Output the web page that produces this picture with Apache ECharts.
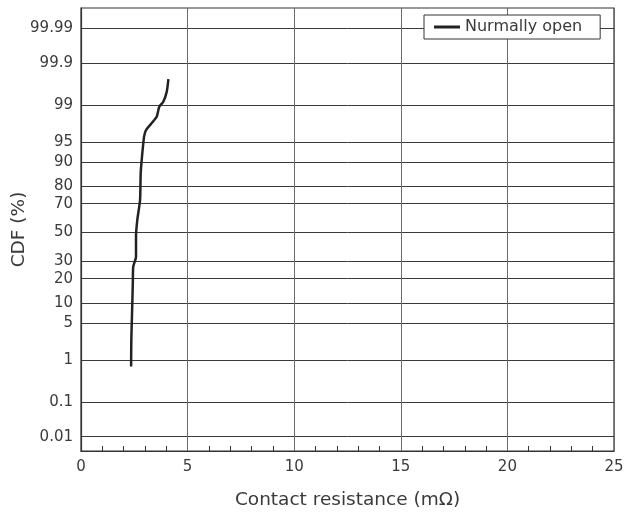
<!DOCTYPE html>
<html><head><meta charset="utf-8">
<script src="https://cdn.jsdelivr.net/npm/echarts@6/dist/echarts.min.js"></script>
<style>html,body{margin:0;padding:0;background:#fff}#c{width:626px;height:518px}</style>
</head><body><div id="c"></div>
<script>
// Data (contact resistance in mΩ, CDF in %)
var resistance = [2.35, 2.36, 2.39, 2.43, 2.45, 2.58, 2.58, 2.64, 2.77, 2.80, 2.86, 2.96, 3.05, 3.32, 3.55, 3.67, 3.86, 4.02, 4.10];
var cdfPercent = [0.73, 2.5, 6.3, 17.7, 26.7, 33, 47, 59, 72.3, 86, 91.6, 96, 96.9, 97.7, 98.25, 98.9, 99.14, 99.48, 99.74];
var yTickPercents = [0.01, 0.1, 1, 5, 10, 20, 30, 50, 70, 80, 90, 95, 99, 99.9, 99.99];
var yTickLabels = ['0.01', '0.1', '1', '5', '10', '20', '30', '50', '70', '80', '90', '95', '99', '99.9', '99.99'];
var seriesName = 'Nurmally open';

// inverse standard normal CDF (Acklam) for probability-paper scale
function probit(p) {
  var a = [-3.969683028665376e+01, 2.209460984245205e+02, -2.759285104469687e+02, 1.383577518672690e+02, -3.066479806614716e+01, 2.506628277459239e+00];
  var b = [-5.447609879822406e+01, 1.615858368580409e+02, -1.556989798598866e+02, 6.680131188771972e+01, -1.328068155288572e+01];
  var c = [-7.784894002430293e-03, -3.223964580411365e-01, -2.400758277161838e+00, -2.549732539343734e+00, 4.374664141464968e+00, 2.938163982698783e+00];
  var d = [7.784695709041462e-03, 3.224671290700398e-01, 2.445134137142996e+00, 3.754408661907416e+00];
  var pl = 0.02425, q, r;
  if (p < pl) { q = Math.sqrt(-2 * Math.log(p)); return (((((c[0]*q+c[1])*q+c[2])*q+c[3])*q+c[4])*q+c[5]) / ((((d[0]*q+d[1])*q+d[2])*q+d[3])*q+1); }
  if (p <= 1 - pl) { q = p - 0.5; r = q*q; return (((((a[0]*r+a[1])*r+a[2])*r+a[3])*r+a[4])*r+a[5])*q / (((((b[0]*r+b[1])*r+b[2])*r+b[3])*r+b[4])*r+1); }
  q = Math.sqrt(-2 * Math.log(1 - p)); return -(((((c[0]*q+c[1])*q+c[2])*q+c[3])*q+c[4])*q+c[5]) / ((((d[0]*q+d[1])*q+d[2])*q+d[3])*q+1);
}
var yTickZ = yTickPercents.map(function (v) { return probit(v / 100); });
var lineData = resistance.map(function (x, i) { return [x, probit(cdfPercent[i] / 100)]; });

var font = 'DejaVu Sans, sans-serif';
var txt = '#3a3a3a';
var chart = echarts.init(document.getElementById('c'), null, { renderer: 'canvas' });
chart.setOption({
  animation: false,
  grid: { left: 81, right: 12, top: 8, bottom: 67, containLabel: false, outerBoundsMode: 'none', show: true, borderColor: '#333', borderWidth: 1.2, backgroundColor: 'transparent' },
  legend: {
    data: [seriesName], left: 424, top: 15, orient: 'horizontal',
    backgroundColor: '#fff', borderColor: '#333', borderWidth: 1,
    padding: [4, 18, 4, 10], itemWidth: 26, itemHeight: 3, itemGap: 6,
    icon: 'rect',
    textStyle: { fontFamily: font, fontSize: 16, color: txt }
  },
  xAxis: {
    type: 'value', min: 0, max: 25, interval: 5,
    name: 'Contact resistance (mΩ)', nameLocation: 'middle', nameGap: 40, nameMoveOverlap: false,
    nameTextStyle: { fontFamily: font, fontSize: 18.5, color: txt },
    axisLine: { show: true, onZero: false, lineStyle: { color: '#333', width: 1.2 } },
    axisTick: { show: false, inside: true },
    minorTick: { show: true, splitNumber: 5, length: 5, lineStyle: { color: '#333', width: 1 } },
    axisLabel: { fontFamily: font, fontSize: 15, color: txt, margin: 9 },
    splitLine: { show: true, lineStyle: { color: '#6a6a6a', width: 1 } }
  },
  yAxis: {
    type: 'value', min: -3.98, max: 4.09,
    name: 'CDF (%)', nameLocation: 'middle', nameGap: 52, nameRotate: 90, nameMoveOverlap: false,
    nameTextStyle: { fontFamily: font, fontSize: 18.5, color: txt },
    axisLine: { show: true, onZero: false, lineStyle: { color: '#333', width: 1.2 } },
    axisTick: { show: false, customValues: yTickZ },
    axisLabel: {
      customValues: yTickZ, fontFamily: font, fontSize: 15, color: txt, margin: 8,
      formatter: function (v) {
        var best = 0, bd = 1e9;
        for (var i = 0; i < yTickZ.length; i++) { var dd = Math.abs(yTickZ[i] - v); if (dd < bd) { bd = dd; best = i; } }
        return yTickLabels[best];
      }
    },
    splitLine: { show: true, lineStyle: { color: '#3a3a3a', width: 1 } }
  },
  series: [{
    name: seriesName, type: 'line', data: lineData, showSymbol: false, symbol: 'none',
    smooth: 0.2,
    lineStyle: { color: '#222', width: 2.5 }, itemStyle: { color: '#222' },
    z: 5
  }]
});
</script></body></html>
